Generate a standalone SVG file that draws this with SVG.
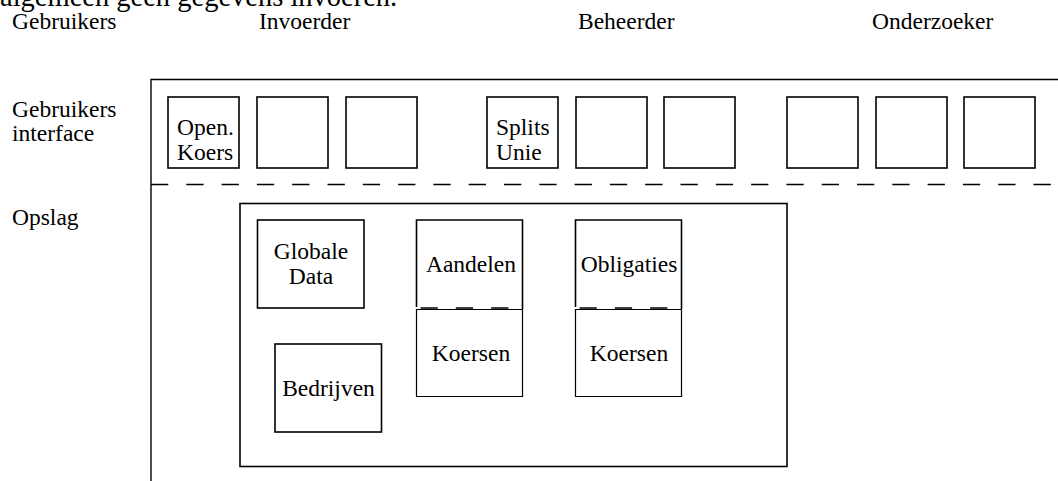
<svg xmlns="http://www.w3.org/2000/svg" width="1058" height="481" viewBox="0 0 1058 481">
<style>
text{font-family:"Liberation Serif","Times New Roman",serif;font-size:23.5px;fill:#000}
.c{text-anchor:middle}
.b{fill:none;stroke:#000;stroke-width:1.6}
.l{fill:none;stroke:#000;stroke-width:1.4}
.d{fill:none;stroke:#000;stroke-width:1.6;stroke-dasharray:17.3 18}
</style>
<rect width="1058" height="481" fill="#fff"/>
<text x="0" y="6" style="font-size:28.5px">algemeen geen gegevens invoeren.</text>
<g id="headers">
<text x="12" y="29">Gebruikers</text>
<text x="259" y="29">Invoerder</text>
<text x="578" y="29">Beheerder</text>
<text x="872" y="29">Onderzoeker</text>
<text x="12" y="117">Gebruikers</text>
<text x="12" y="141">interface</text>
<text x="12" y="225">Opslag</text>
</g>
<g id="connectors">
<path class="l" d="M151 481V79.5H1058"/>
<path class="d" d="M151 184.5H1058"/>
</g>
<g id="ui-open-koers"><rect class="b" x="168" y="97" width="71" height="71"/><text x="177" y="135">Open.</text><text x="177" y="160">Koers</text></g>
<g id="ui-2"><rect class="b" x="257" y="97" width="71" height="71"/></g>
<g id="ui-3"><rect class="b" x="346" y="97" width="71" height="71"/></g>
<g id="ui-splits-unie"><rect class="b" x="487" y="97" width="71" height="71"/><text x="496" y="135">Splits</text><text x="496" y="160">Unie</text></g>
<g id="ui-5"><rect class="b" x="576" y="97" width="71" height="71"/></g>
<g id="ui-6"><rect class="b" x="664" y="97" width="71" height="71"/></g>
<g id="ui-7"><rect class="b" x="787" y="97" width="71" height="71"/></g>
<g id="ui-8"><rect class="b" x="876" y="97" width="71" height="71"/></g>
<g id="ui-9"><rect class="b" x="964" y="97" width="71" height="71"/></g>
<g id="opslag"><rect class="b" x="240" y="203.5" width="547" height="263"/></g>
<g id="globale-data"><rect class="b" x="257.5" y="220" width="106.5" height="88"/><text class="c" x="311" y="259">Globale</text><text class="c" x="311" y="284">Data</text></g>
<g id="bedrijven"><rect class="b" x="275" y="344" width="106.5" height="88"/><text class="c" x="328.5" y="396">Bedrijven</text></g>
<g id="aandelen"><path class="b" d="M416.5 307V220H522.5V309"/><path class="d" d="M416.5 308H522.5" style="stroke-dashoffset:-4"/><text class="c" x="471" y="272">Aandelen</text></g>
<g id="aandelen-koersen"><path class="l" d="M416.5 309.5H522.5V396.5H416.5Z" style="stroke-width:1.2"/><text class="c" x="471" y="361">Koersen</text></g>
<g id="obligaties"><path class="b" d="M575.5 307V220H681.5V309"/><path class="d" d="M575.5 308H681.5" style="stroke-dashoffset:-4"/><text class="c" x="629" y="272">Obligaties</text></g>
<g id="obligaties-koersen"><path class="l" d="M575.5 309.5H681.5V396.5H575.5Z" style="stroke-width:1.2"/><text class="c" x="629" y="361">Koersen</text></g>
</svg>
